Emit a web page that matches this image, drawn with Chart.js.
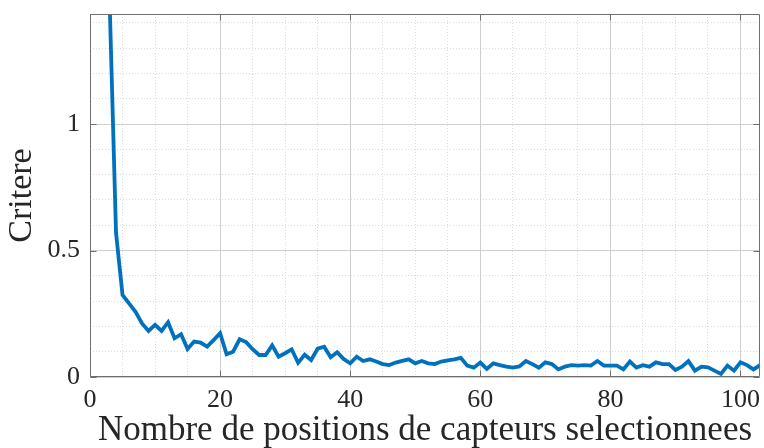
<!DOCTYPE html>
<html><head><meta charset="utf-8">
<script src="https://cdn.jsdelivr.net/npm/chart.js@4/dist/chart.umd.min.js"></script>
<style>html,body{margin:0;padding:0;background:#fff}#wrap{width:764px;height:448px}</style>
</head><body><div id="wrap"><canvas id="c" width="764" height="448"></canvas></div>
<script>
const nbPositions = [1,2,3,4,5,6,7,8,9,10,11,12,13,14,15,16,17,18,19,20,
  21,22,23,24,25,26,27,28,29,30,31,32,33,34,35,36,37,38,39,40,
  41,42,43,44,45,46,47,48,49,50,51,52,53,54,55,56,57,58,59,60,
  61,62,63,64,65,66,67,68,69,70,71,72,73,74,75,76,77,78,79,80,
  81,82,83,84,85,86,87,88,89,90,91,92,93,94,95,96,97,98,99,100,101,102,103];
const critere = [12,4,1.5,0.57,0.324,0.291,0.258,0.212,0.182,0.206,
  0.182,0.216,0.153,0.169,0.111,0.140,0.136,0.120,0.146,0.173,
  0.090,0.100,0.149,0.138,0.110,0.087,0.087,0.125,0.080,0.094,
  0.109,0.056,0.088,0.067,0.112,0.120,0.078,0.098,0.071,0.054,
  0.080,0.063,0.070,0.061,0.051,0.047,0.057,0.064,0.070,0.054,
  0.063,0.054,0.051,0.061,0.066,0.070,0.076,0.045,0.037,0.057,
  0.032,0.054,0.047,0.041,0.037,0.042,0.063,0.051,0.037,0.058,
  0.051,0.030,0.041,0.047,0.045,0.047,0.045,0.063,0.045,0.045,
  0.045,0.030,0.061,0.037,0.047,0.041,0.058,0.051,0.051,0.028,
  0.041,0.063,0.025,0.041,0.038,0.025,0.012,0.045,0.025,0.058,
  0.047,0.030,0.047];
const xMajorTicks = [0,20,40,60,80,100];
const xMinorTicks = [5,10,15,25,30,35,45,50,55,65,70,75,85,90,95];
const yMajorTicks = [0,0.5,1];
const yTickLabels = ['0','0.5','1'];
const yMinorTicks = [0.1,0.2,0.3,0.4,0.6,0.7,0.8,0.9,1.1,1.2,1.3,1.4];
const xRange = [0,103];
const yRange = [0,1.435];
const xLabel = 'Nombre de positions de capteurs selectionnees';
const yLabel = 'Critere';

const FONT = "'Liberation Serif', 'DejaVu Serif', serif";
const AXIS = '#6f6f6f';
const TXT = '#262626';

const boxPlugin = {
  id: 'box',
  afterDraw(chart) {
    const {ctx, chartArea: a, scales} = chart;
    ctx.save();
    ctx.strokeStyle = AXIS;
    ctx.lineWidth = 1;
    const L = Math.round(a.left) + 0.5, R = Math.round(a.right) - 0.5;
    const T = Math.round(a.top) + 0.5, B = Math.round(a.bottom) - 0.5;
    ctx.beginPath();
    ctx.rect(L, T, R - L, B - T);
    ctx.stroke();
    ctx.beginPath();
    const tl = 6;
    xMajorTicks.forEach(v => {
      const p = Math.round(scales.x.getPixelForValue(v)) + 0.5;
      ctx.moveTo(p, B); ctx.lineTo(p, B - tl);
      ctx.moveTo(p, T); ctx.lineTo(p, T + tl);
    });
    yMajorTicks.forEach(v => {
      const p = Math.round(scales.y.getPixelForValue(v)) + 0.5;
      ctx.moveTo(L, p); ctx.lineTo(L + tl, p);
      ctx.moveTo(R, p); ctx.lineTo(R - tl, p);
    });
    ctx.stroke();
    ctx.restore();
  }
};

function noPad(s) { s.paddingLeft = 0; s.paddingRight = 0; s.paddingTop = 0; s.paddingBottom = 0; }

new Chart(document.getElementById('c'), {
  type: 'line',
  data: {
    datasets: [{
      data: nbPositions.map((x, i) => ({x: x, y: critere[i]})),
      borderColor: '#0072BD',
      borderWidth: 3.8,
      pointRadius: 0,
      tension: 0,
      fill: false,
      clip: 0
    }]
  },
  options: {
    responsive: false,
    animation: false,
    devicePixelRatio: 1,
    layout: {padding: {top: 14, right: 4, left: 0, bottom: 0}},
    plugins: {legend: {display: false}, tooltip: {enabled: false}},
    scales: {
      xMinor: {
        type: 'linear', position: 'bottom', min: xRange[0], max: xRange[1],
        afterBuildTicks: s => { s.ticks = xMinorTicks.map(v => ({value: v})); },
        afterFit: s => { s.height = 0; noPad(s); },
        ticks: {display: false},
        grid: {color: '#dcdcdc', lineWidth: 1, drawTicks: false},
        border: {display: false, dash: [1, 2]}
      },
      yMinor: {
        type: 'linear', position: 'left', min: yRange[0], max: yRange[1],
        afterBuildTicks: s => { s.ticks = yMinorTicks.map(v => ({value: v})); },
        afterFit: s => { s.width = 0; noPad(s); },
        ticks: {display: false},
        grid: {color: '#dcdcdc', lineWidth: 1, drawTicks: false},
        border: {display: false, dash: [1, 2]}
      },
      x: {
        type: 'linear', position: 'bottom', min: xRange[0], max: xRange[1],
        afterBuildTicks: s => { s.ticks = xMajorTicks.map(v => ({value: v})); },
        afterFit: s => { s.height = 71; noPad(s); },
        grid: {color: '#cfcfcf', lineWidth: 1, drawTicks: false},
        border: {display: false},
        ticks: {font: {family: FONT, size: 26}, color: TXT, padding: 8, maxRotation: 0, autoSkip: false},
        title: {display: true, text: xLabel, color: TXT,
          font: {family: FONT, size: 35, lineHeight: 1}, padding: {top: 0, bottom: 0}}
      },
      y: {
        type: 'linear', position: 'left', min: yRange[0], max: yRange[1],
        afterBuildTicks: s => { s.ticks = yMajorTicks.map(v => ({value: v})); },
        afterFit: s => { s.width = 90; noPad(s); },
        grid: {color: '#cfcfcf', lineWidth: 1, drawTicks: false},
        border: {display: false},
        ticks: {font: {family: FONT, size: 26}, color: TXT, padding: 10,
          callback: (v) => { const i = yMajorTicks.indexOf(v); return i >= 0 ? yTickLabels[i] : ''; }},
        title: {display: true, text: yLabel, color: TXT,
          font: {family: FONT, size: 34, lineHeight: 1}, padding: {top: 5, bottom: 0}}
      }
    }
  },
  plugins: [boxPlugin]
});
</script>
</body></html>
